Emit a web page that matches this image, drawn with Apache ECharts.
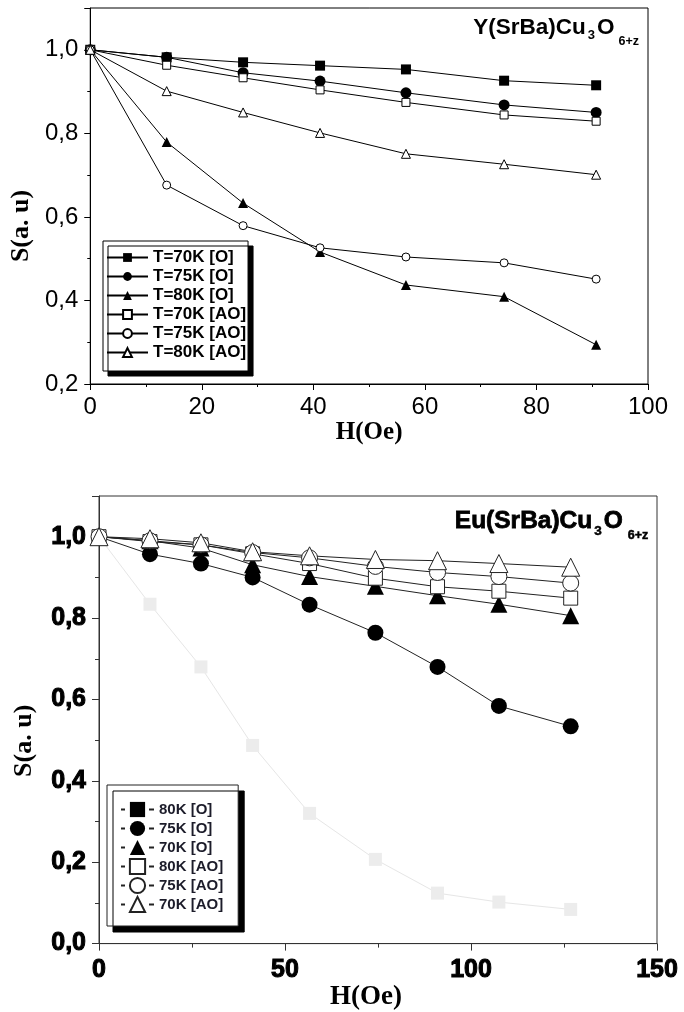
<!DOCTYPE html>
<html>
<head>
<meta charset="utf-8">
<script src="https://cdn.jsdelivr.net/npm/echarts@6/dist/echarts.min.js"></script>
<style>
html,body{margin:0;padding:0;background:#fff;}
#c{width:684px;height:1012px;}
</style>
</head>
<body>
<div id="c"></div>
<script>
// ---- data: top panel Y(SrBa)Cu3O6+z ----
const hTop = [0, 13.7, 27.4, 41.2, 56.6, 74.2, 90.7];
const top70O  = [1.0, 0.982, 0.970, 0.962, 0.953, 0.926, 0.915];
const top75O  = [1.0, 0.982, 0.945, 0.925, 0.897, 0.868, 0.850];
const top80O  = [1.0, 0.779, 0.633, 0.516, 0.437, 0.409, 0.294];
const top70AO = [1.0, 0.963, 0.933, 0.904, 0.874, 0.844, 0.829];
const top75AO = [1.0, 0.676, 0.579, 0.526, 0.504, 0.490, 0.451];
const top80AO = [1.0, 0.901, 0.850, 0.801, 0.751, 0.726, 0.701];
const topNames = ['T=70K [O]', 'T=75K [O]', 'T=80K [O]', 'T=70K [AO]', 'T=75K [AO]', 'T=80K [AO]'];

// ---- data: bottom panel Eu(SrBa)Cu3O6+z ----
const hBot = [0, 13.7, 27.4, 41.3, 56.6, 74.3, 91.0, 107.5, 126.8];
const bot80O  = [1.0, 0.834, 0.680, 0.487, 0.320, 0.207, 0.124, 0.102, 0.084];
const bot75O  = [1.0, 0.957, 0.934, 0.900, 0.833, 0.764, 0.680, 0.584, 0.534];
const bot70O  = [1.0, 0.990, 0.972, 0.931, 0.902, 0.878, 0.855, 0.834, 0.806];
const bot80AO = [1.0, 0.988, 0.980, 0.958, 0.934, 0.898, 0.877, 0.866, 0.849];
const bot75AO = [1.0, 0.990, 0.980, 0.961, 0.948, 0.927, 0.912, 0.902, 0.886];
const bot70AO = [1.0, 0.995, 0.985, 0.963, 0.953, 0.944, 0.941, 0.934, 0.925];
const botNames = ['80K [O]', '75K [O]', '70K [O]', '80K [AO]', '75K [AO]', '70K [AO]'];

// tick labels
const topYTicks = [0.2, 0.4, 0.6, 0.8, 1.0];
const botYTicks = [0.0, 0.2, 0.4, 0.6, 0.8, 1.0];

function pairs(xs, ys) { return ys.map((v, i) => [xs[i], v]); }
function commaFmt(ticks) {
  return function (v) {
    const ok = ticks.some(t => Math.abs(t - v) < 1e-6);
    return ok ? v.toFixed(1).replace('.', ',') : '';
  };
}

const chart = echarts.init(document.getElementById('c'), null, {renderer: 'canvas'});

function mkSeries(name, xs, ys, gi, symbol, size, filled, lineColor, fillColor) {
  return {
    name: name, type: 'line', xAxisIndex: gi, yAxisIndex: gi,
    data: pairs(xs, ys),
    symbol: symbol, symbolSize: size,
    showAllSymbol: true,
    animation: false,
    lineStyle: {color: lineColor, width: 1},
    itemStyle: filled ? {color: fillColor, borderColor: fillColor, borderWidth: 0}
                      : {color: '#fff', borderColor: lineColor, borderWidth: 1},
    emphasis: {disabled: true}
  };
}

const K = '#000';
const series = [
  mkSeries(topNames[0], hTop, top70O, 0, 'rect', 10, true, K, K),
  mkSeries(topNames[1], hTop, top75O, 0, 'circle', 11, true, K, K),
  mkSeries(topNames[2], hTop, top80O, 0, 'triangle', 10, true, K, K),
  mkSeries(topNames[3], hTop, top70AO, 0, 'rect', 8, false, K),
  mkSeries(topNames[4], hTop, top75AO, 0, 'circle', 8, false, K),
  mkSeries(topNames[5], hTop, top80AO, 0, 'triangle', 9, false, K),

  mkSeries(botNames[0], hBot, bot80O, 1, 'rect', 13, true, '#e6e6e6', '#ececec'),
  mkSeries(botNames[1], hBot, bot75O, 1, 'circle', 16, true, '#222', K),
  mkSeries(botNames[2], hBot, bot70O, 1, 'triangle', 17, true, '#222', K),
  mkSeries(botNames[3], hBot, bot80AO, 1, 'rect', 14, false, '#222'),
  mkSeries(botNames[4], hBot, bot75AO, 1, 'circle', 16, false, '#222'),
  mkSeries(botNames[5], hBot, bot70AO, 1, 'triangle', 18, false, '#222')
];

const subTop = {
  m: {fontSize: 22.5, fontWeight: 'bold', fontFamily: 'Liberation Sans', color: '#000', lineHeight: 24, verticalAlign: 'top'},
  s1: {fontSize: 13, fontWeight: 'bold', fontFamily: 'Liberation Sans', color: '#000', lineHeight: 14, padding: [13, 2, 0, 2], verticalAlign: 'top'},
  s2: {fontSize: 12.5, fontWeight: 'bold', fontFamily: 'Liberation Sans', color: '#000', lineHeight: 14, padding: [19, 0, 0, 4], verticalAlign: 'top'}
};
const subBot = {
  m: {fontSize: 24.5, fontWeight: 'bold', fontFamily: 'Liberation Sans', color: '#000', lineHeight: 26, verticalAlign: 'top', textBorderColor: '#000', textBorderWidth: 0.8},
  s1: {fontSize: 13.5, fontWeight: 'bold', fontFamily: 'Liberation Sans', color: '#000', lineHeight: 14, padding: [15, 2, 0, 2], verticalAlign: 'top', textBorderColor: '#000', textBorderWidth: 0.5},
  s2: {fontSize: 12.5, fontWeight: 'bold', fontFamily: 'Liberation Sans', color: '#000', lineHeight: 14, padding: [20, 0, 0, 5], verticalAlign: 'top', textBorderColor: '#000', textBorderWidth: 0.5}
};

const option = {
  backgroundColor: '#fff',
  animation: false,
  title: [
    {text: '{m|Y(SrBa)Cu}{s1|3}{m|O}{s2|6+z}', right: 45, top: 16, padding: 0, textStyle: {rich: subTop}},
    {text: '{m|Eu(SrBa)Cu}{s1|3}{m|O}{s2|6+z}', right: 35, top: 509, padding: 0, textStyle: {rich: subBot}}
  ],
  grid: [
    {left: 87, top: 8, width: 561, height: 376, show: true, borderColor: '#000', borderWidth: 1, backgroundColor: 'transparent'},
    {left: 99, top: 496, width: 558, height: 465, show: true, borderColor: '#333', borderWidth: 1, backgroundColor: 'transparent'}
  ],
  xAxis: [
    {
      type: 'value', gridIndex: 0, min: 0, max: 100, interval: 20,
      name: 'H(Oe)', nameLocation: 'middle', nameGap: 12,
      nameTextStyle: {fontFamily: 'Liberation Serif', fontWeight: 'bold', fontSize: 25, color: '#000', verticalAlign: 'top'},
      axisLine: {onZero: false, lineStyle: {color: '#000', width: 1}},
      axisTick: {inside: false, length: 6, lineStyle: {color: '#000'}},
      minorTick: {show: true, splitNumber: 2, length: 3, lineStyle: {color: '#000'}},
      splitLine: {show: false},
      axisLabel: {fontFamily: 'Liberation Sans', fontSize: 24, color: '#000', margin: 11}
    },
    {
      type: 'value', gridIndex: 1, min: 0, max: 150, interval: 50,
      name: 'H(Oe)', nameLocation: 'middle', nameGap: 15,
      nameTextStyle: {fontFamily: 'Liberation Serif', fontWeight: 'bold', fontSize: 27, color: '#000', verticalAlign: 'top', padding: [0, 24, 0, 0]},
      axisLine: {onZero: false, lineStyle: {color: '#333', width: 1}},
      axisTick: {inside: false, length: 7, lineStyle: {color: '#333'}},
      minorTick: {show: true, splitNumber: 2, length: 4, lineStyle: {color: '#333'}},
      splitLine: {show: false},
      axisLabel: {fontFamily: 'Liberation Sans', fontWeight: 'bold', fontSize: 25, color: '#000', margin: 14, textBorderColor: '#000', textBorderWidth: 1}
    }
  ],
  yAxis: [
    {
      type: 'value', gridIndex: 0, min: 0.2, max: 1.1, interval: 0.2,
      name: 'S(a. u)', nameLocation: 'middle', nameGap: 50, nameRotate: 90,
      nameTextStyle: {fontFamily: 'Liberation Serif', fontWeight: 'bold', fontSize: 26, color: '#000', padding: [0, 60, 0, 0]},
      axisLine: {onZero: false, lineStyle: {color: '#000', width: 1}},
      axisTick: {inside: false, length: 6, lineStyle: {color: '#000'}},
      minorTick: {show: true, splitNumber: 2, length: 3, lineStyle: {color: '#000'}},
      splitLine: {show: false},
      axisLabel: {fontFamily: 'Liberation Sans', fontSize: 24, color: '#000', margin: 12, showMaxLabel: false, formatter: commaFmt(topYTicks)}
    },
    {
      type: 'value', gridIndex: 1, min: 0, max: 1.1, interval: 0.2,
      name: 'S(a. u)', nameLocation: 'middle', nameGap: 62, nameRotate: 90,
      nameTextStyle: {fontFamily: 'Liberation Serif', fontWeight: 'bold', fontSize: 26, color: '#000', padding: [0, 42, 0, 0]},
      axisLine: {onZero: false, lineStyle: {color: '#333', width: 1}},
      axisTick: {inside: false, length: 7, lineStyle: {color: '#333'}},
      minorTick: {show: true, splitNumber: 2, length: 4, lineStyle: {color: '#333'}},
      splitLine: {show: false},
      axisLabel: {fontFamily: 'Liberation Sans', fontWeight: 'bold', fontSize: 25, color: '#000', margin: 13, showMaxLabel: false, textBorderColor: '#000', textBorderWidth: 1, formatter: commaFmt(botYTicks)}
    }
  ],
  legend: [
    {
      data: topNames, orient: 'vertical', left: 103, top: 241,
      itemWidth: 41, itemHeight: 11, itemGap: 2,
      padding: [8, 2, 10, 3],
      backgroundColor: '#fff', borderColor: '#000', borderWidth: 1,
      shadowColor: '#000', shadowBlur: 0, shadowOffsetX: 5, shadowOffsetY: 5,
      selectedMode: false,
      textStyle: {fontFamily: 'Liberation Sans', fontWeight: 'bold', fontSize: 17, lineHeight: 17, color: '#000'}
    },
    {
      data: [
        {name: botNames[0], itemStyle: {color: '#000', borderColor: '#000'}, lineStyle: {color: '#222'}},
        botNames[1], botNames[2], botNames[3], botNames[4], botNames[5]
      ],
      orient: 'vertical', left: 107, top: 785,
      itemWidth: 33, itemHeight: 19, itemGap: 0,
      padding: [15, 15, 12, 13],
      backgroundColor: '#fff', borderColor: '#222', borderWidth: 1,
      shadowColor: '#000', shadowBlur: 0, shadowOffsetX: 6, shadowOffsetY: 6,
      selectedMode: false,
      lineStyle: {type: [4, 24, 5]},
      textStyle: {fontFamily: 'Liberation Sans', fontWeight: 'bold', fontSize: 15, lineHeight: 19, color: '#1c1c2a'}
    }
  ],
  series: series
};

chart.setOption(option);
</script>
</body>
</html>
